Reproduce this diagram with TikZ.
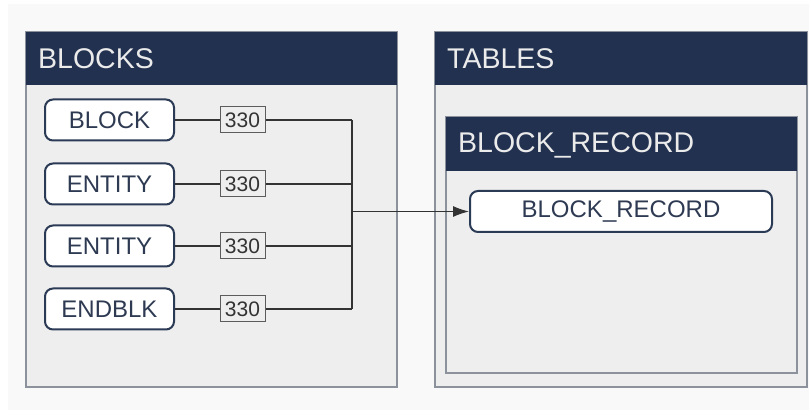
\documentclass[tikz,border=0pt]{standalone}
\usepackage{fontspec}
\setmainfont{Liberation Sans}
\usetikzlibrary{arrows.meta}
\definecolor{navy}{HTML}{22314F}
\definecolor{panelfill}{HTML}{EEEEEE}
\definecolor{panelline}{HTML}{8C929C}
\definecolor{itemline}{HTML}{2B3A55}
\definecolor{itemtext}{HTML}{2E3A52}
\definecolor{wirec}{HTML}{333333}
\definecolor{pagebg}{HTML}{F9F9F9}
\begin{document}
\begin{tikzpicture}[x=1pt,y=-1pt,
  panel/.style={draw=panelline,fill=panelfill,line width=1.3pt},
  header/.style={fill=navy},
  htext/.style={anchor=west,inner sep=0pt,text=white!92!black,font=\fontsize{28.5}{32}\selectfont},
  item/.style={draw=itemline,fill=white,line width=2pt,rounded corners=8pt,
    minimum height=41pt,inner sep=0pt,text=itemtext,font=\fontsize{24}{28}\selectfont},
  lbl/.style={draw=wirec!80,fill=panelfill,line width=1pt,minimum width=45pt,
    minimum height=26pt,inner sep=0pt,text=wirec,font=\fontsize{21}{24}\selectfont},
  wire/.style={draw=wirec,line width=1.2pt},
  arr/.style={wire,-{Latex[length=16pt,width=11pt]}}]
\useasboundingbox (0,0) rectangle (809,411);
\fill[white] (0,0) rectangle (809,411);
\fill[pagebg] (8,4) rectangle (809,410);

% BLOCKS panel
\draw[panel] (26,32) rectangle (397,387);
\fill[header] (26,32) rectangle (397,85);
\node[htext] (hblocks) at (38,59) {BLOCKS};

% TABLES panel
\draw[panel] (435,32) rectangle (807,387);
\fill[header] (435,32) rectangle (807,85);
\node[htext] (htables) at (447,59) {TABLES};

% BLOCK_RECORD sub-panel
\draw[panel] (446,117) rectangle (797,373);
\fill[header] (446,117) rectangle (797,171);
\node[htext] (hrec) at (458,145) {BLOCK\_RECORD};

% entity items
\node[item,minimum width=129pt] (block) at (109.5,120) {BLOCK};
\node[item,minimum width=129pt] (ent1) at (109.5,184) {ENTITY};
\node[item,minimum width=129pt] (ent2) at (109.5,246) {ENTITY};
\node[item,minimum width=129pt] (endblk) at (109.5,309) {ENDBLK};

\node[item,minimum width=302pt] (rec) at (621,211.5) {BLOCK\_RECORD};

% code labels
\node[lbl] (l1) at (242.5,120) {330};
\node[lbl] (l2) at (242.5,184) {330};
\node[lbl] (l3) at (242.5,246) {330};
\node[lbl] (l4) at (242.5,309) {330};

\coordinate (trunk) at (352,211.5);

\foreach \a/\b in {block/l1,ent1/l2,ent2/l3,endblk/l4}{
  \draw[wire] (\a.east) -- (\b.west);
  \draw[wire] (\b.east) -- (\b.east -| trunk);
}
\draw[wire] (l1.east -| trunk) -- (l4.east -| trunk);
\draw[arr] (trunk) -- (rec.west);
\end{tikzpicture}
\end{document}
